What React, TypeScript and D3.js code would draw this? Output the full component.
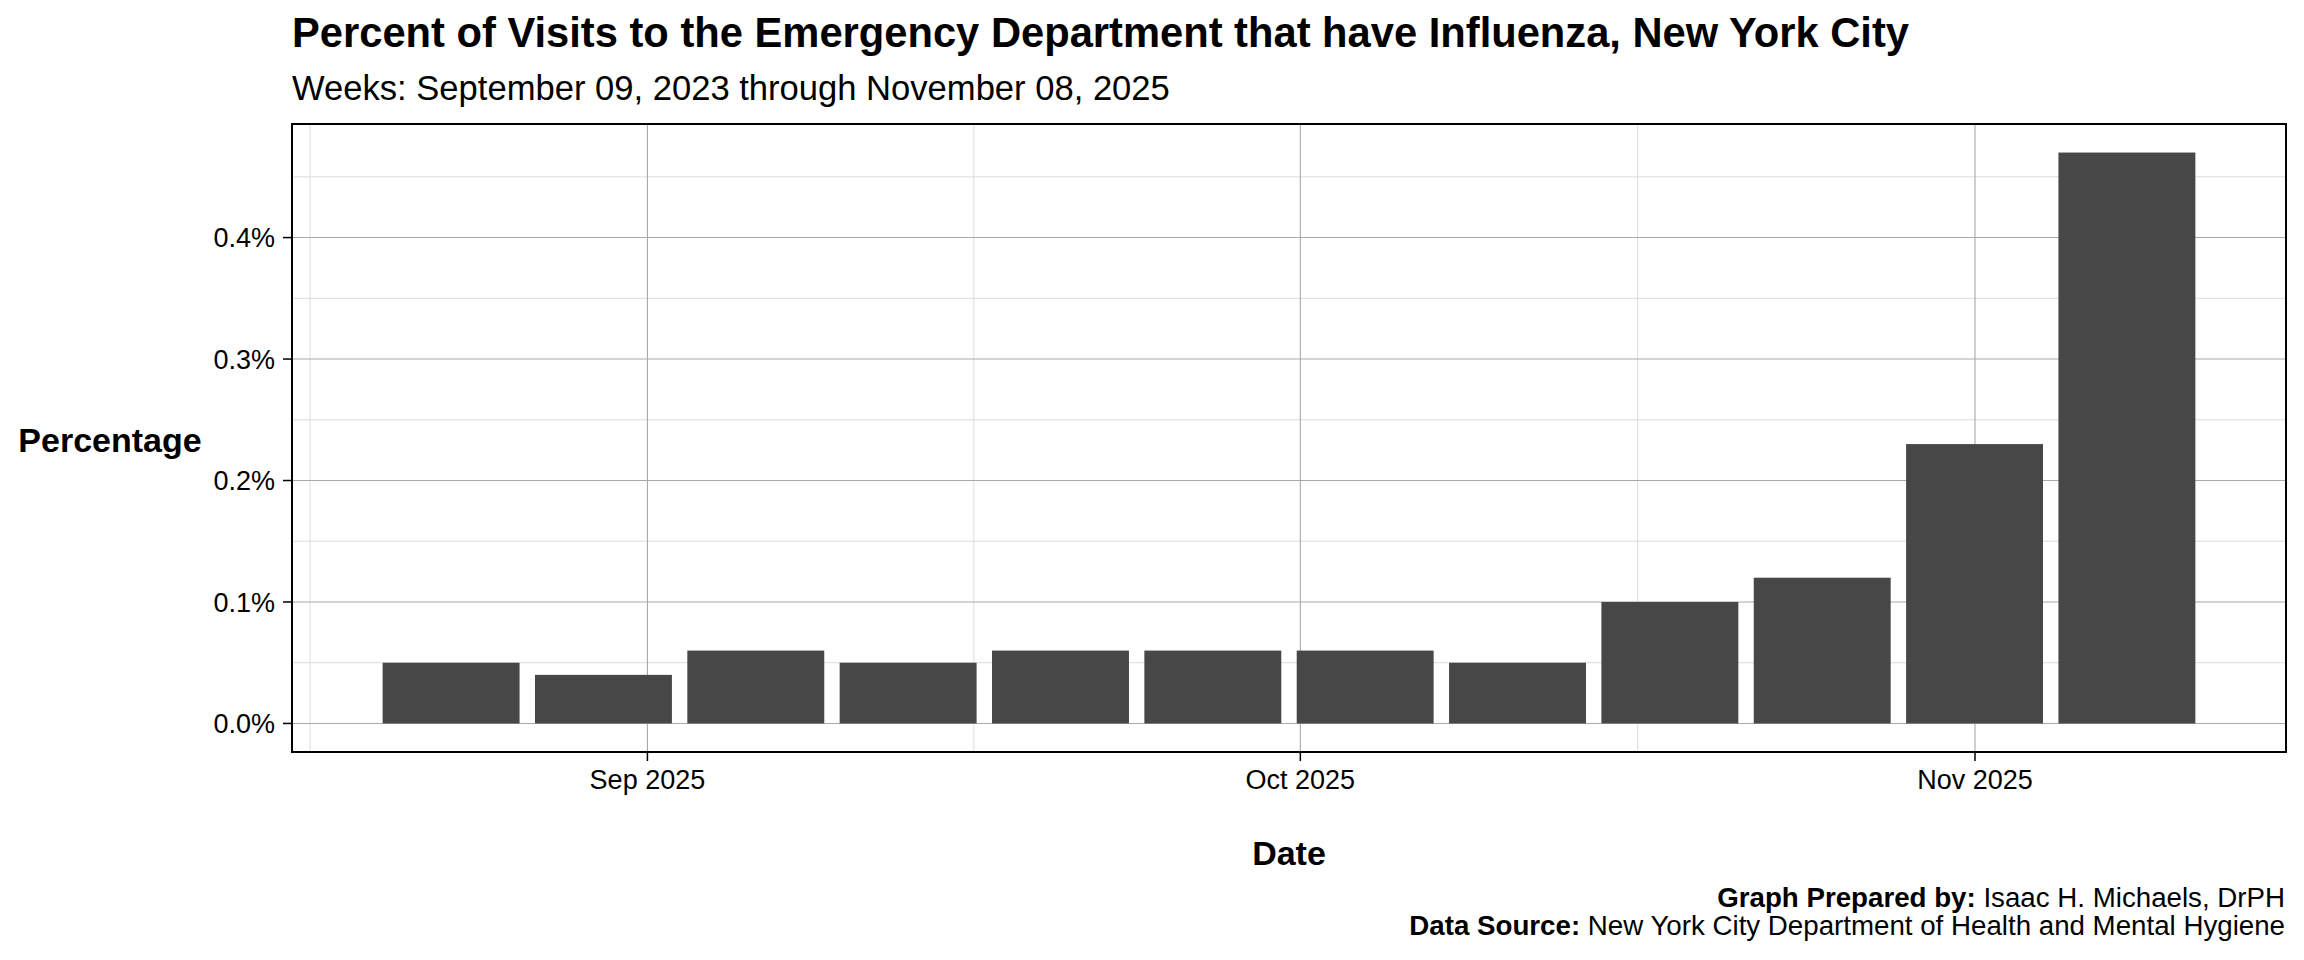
import * as d3 from "d3";

// week ending dates (Saturdays) and percent of ED visits with influenza
const weeks = [
  "2025-08-23", "2025-08-30", "2025-09-06", "2025-09-13", "2025-09-20", "2025-09-27",
  "2025-10-04", "2025-10-11", "2025-10-18", "2025-10-25", "2025-11-01", "2025-11-08",
];
const percents = [0.05, 0.04, 0.06, 0.05, 0.06, 0.06, 0.06, 0.05, 0.1, 0.12, 0.23, 0.47];
const yTicks = [0, 0.1, 0.2, 0.3, 0.4];

const title = "Percent of Visits to the Emergency Department that have Influenza, New York City";
const subtitle = "Weeks: September 09, 2023 through November 08, 2025";

const W = 2304;
const H = 960;
const panel = { left: 292, right: 2286, top: 124, bottom: 752 };
const font = "'Liberation Sans', Arial, Helvetica, sans-serif";

export default function App() {
  const parse = d3.utcParse("%Y-%m-%d");
  const data = weeks.map((w, i) => ({ date: parse(w) as Date, value: percents[i] }));

  // bars are 90% of a week wide, centred on the week date
  const halfBar = 0.9 * 7 * 12; // hours
  const lo = d3.utcHour.offset(data[0].date, -halfBar);
  const hi = d3.utcHour.offset(data[data.length - 1].date, halfBar);
  const span = +hi - +lo;
  const x = d3
    .scaleUtc()
    .domain([new Date(+lo - span * 0.05), new Date(+hi + span * 0.05)])
    .range([panel.left, panel.right]);

  const maxV = d3.max(percents) as number;
  const y = d3
    .scaleLinear()
    .domain([-maxV * 0.05, maxV * 1.05])
    .range([panel.bottom, panel.top]);

  const xMajor = x.ticks(d3.utcMonth.every(1) as d3.TimeInterval);
  const allMonths = d3.utcMonth.range(
    d3.utcMonth.offset(xMajor[0], -1),
    d3.utcMonth.offset(xMajor[xMajor.length - 1], 2)
  );
  const xMinor = d3
    .pairs(allMonths)
    .map(([a, b]) => new Date((+a + +b) / 2))
    .filter((d) => +d >= +x.domain()[0] && +d <= +x.domain()[1]);
  const yMinor = d3
    .pairs([-0.1, ...yTicks, 0.5])
    .map(([a, b]) => (a + b) / 2)
    .filter((v) => v >= y.domain()[0] && v <= y.domain()[1]);

  const monthFmt = d3.utcFormat("%b %Y");
  const pctFmt = (v: number) => d3.format(".1f")(v) + "%";

  return (
    <svg
      width={W}
      height={H}
      style={{ position: "absolute", left: 0, top: 0, background: "#fff" }}
      fontFamily={font}
    >
      <rect width={W} height={H} fill="#fff" />

      {/* minor grid */}
      {yMinor.map((v) => (
        <line key={"ym" + v} x1={panel.left} x2={panel.right} y1={y(v)} y2={y(v)} stroke="#dcdcdc" strokeWidth={1} />
      ))}
      {xMinor.map((d) => (
        <line key={"xm" + +d} x1={x(d)} x2={x(d)} y1={panel.top} y2={panel.bottom} stroke="#dcdcdc" strokeWidth={1} />
      ))}
      {/* major grid */}
      {yTicks.map((v) => (
        <line key={"y" + v} x1={panel.left} x2={panel.right} y1={y(v)} y2={y(v)} stroke="#a8a8a8" strokeWidth={1.1} />
      ))}
      {xMajor.map((d) => (
        <line key={"x" + +d} x1={x(d)} x2={x(d)} y1={panel.top} y2={panel.bottom} stroke="#a8a8a8" strokeWidth={1.1} />
      ))}

      {/* bars */}
      {data.map((d) => {
        const x0 = x(d3.utcHour.offset(d.date, -halfBar));
        const x1 = x(d3.utcHour.offset(d.date, halfBar));
        return (
          <rect
            key={+d.date}
            x={x0}
            y={y(d.value)}
            width={x1 - x0}
            height={y(0) - y(d.value)}
            fill="#474747"
          />
        );
      })}

      {/* panel border */}
      <rect
        x={panel.left}
        y={panel.top}
        width={panel.right - panel.left}
        height={panel.bottom - panel.top}
        fill="none"
        stroke="#000"
        strokeWidth={2}
      />

      {/* y axis */}
      {yTicks.map((v) => (
        <g key={"yt" + v}>
          <line x1={panel.left - 9} x2={panel.left} y1={y(v)} y2={y(v)} stroke="#000" strokeWidth={1.5} />
          <text x={panel.left - 17} y={y(v)} dy="0.36em" textAnchor="end" fontSize={27} fill="#000">
            {pctFmt(v)}
          </text>
        </g>
      ))}
      {/* x axis */}
      {xMajor.map((d) => (
        <g key={"xt" + +d}>
          <line x1={x(d)} x2={x(d)} y1={panel.bottom} y2={panel.bottom + 9} stroke="#000" strokeWidth={1.5} />
          <text x={x(d)} y={789} textAnchor="middle" fontSize={27} fill="#000">
            {monthFmt(d)}
          </text>
        </g>
      ))}

      {/* axis titles */}
      <text x={110} y={452} textAnchor="middle" fontSize={34} fontWeight="bold">
        Percentage
      </text>
      <text x={(panel.left + panel.right) / 2} y={865} textAnchor="middle" fontSize={34} fontWeight="bold">
        Date
      </text>

      {/* titles */}
      <text x={panel.left} y={47} fontSize={41.7} fontWeight="bold">
        {title}
      </text>
      <text x={panel.left} y={100} fontSize={34.6}>
        {subtitle}
      </text>

      {/* caption */}
      <text x={panel.right - 1} y={907} textAnchor="end" fontSize={27.7}>
        <tspan fontWeight="bold">Graph Prepared by:</tspan> Isaac H. Michaels, DrPH
      </text>
      <text x={panel.right - 1} y={935} textAnchor="end" fontSize={27.7}>
        <tspan fontWeight="bold">Data Source:</tspan> New York City Department of Health and Mental Hygiene
      </text>
    </svg>
  );
}
